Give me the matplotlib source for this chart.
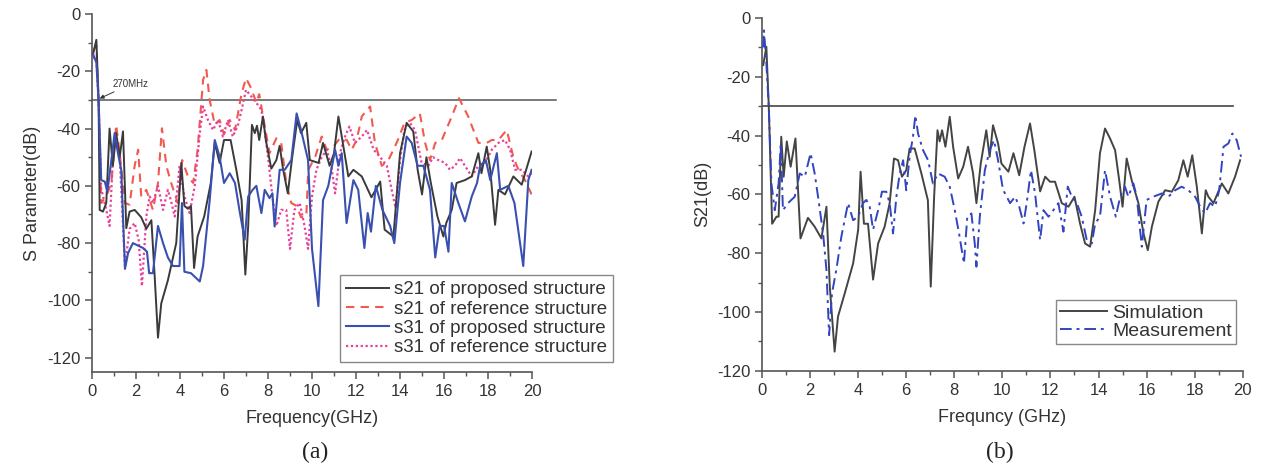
import numpy as np
import matplotlib
matplotlib.use("Agg")
import matplotlib.pyplot as plt
from matplotlib.ticker import MultipleLocator

plt.rcParams['font.family'] = ['Liberation Sans', 'DejaVu Sans']
plt.rcParams['axes.unicode_minus'] = False

# ---- panel (a) data, frequency in GHz, level in dB ----
s21_prop_f = [0.05, 0.2, 0.3, 0.35, 0.5, 0.65, 0.8, 0.95, 1.1, 1.26, 1.41, 1.56, 1.71, 1.94, 2.24, 2.47, 2.7,
              2.85, 3.0, 3.15, 3.45, 3.83, 4.06, 4.2, 4.36, 4.5, 4.64, 4.8, 5.1, 5.4, 5.58, 5.8, 6.0, 6.3,
              6.56, 6.8, 6.97, 7.1, 7.27, 7.4, 7.5, 7.6, 7.77, 7.9, 8.15, 8.38, 8.53, 8.68, 8.9, 9.1, 9.33,
              9.5, 9.74, 9.9, 10.3, 10.5, 10.8, 11.0, 11.2, 11.4, 11.65, 11.88, 12.26, 12.7, 13.1, 13.3,
              13.7, 14.0, 14.3, 14.6, 14.8, 15.0, 15.2, 15.4, 15.7, 15.97, 16.1, 16.35, 16.57, 16.95, 17.26,
              17.56, 17.7, 17.94, 18.1, 18.32, 18.47, 18.77, 19.15, 19.53, 19.98]
s21_prop_db = [-14, -9, -30, -68.4, -69, -66, -40, -53, -41.6, -50, -41, -74.8, -69, -68.4, -71, -75, -72,
               -91.6, -113, -101, -93, -80, -52, -67, -68, -67, -88.7, -77.7, -70.7, -59, -45, -52, -44, -44,
               -54.4, -65, -91, -74, -38.7, -41.6, -39, -44, -35.8, -44, -54, -51, -46, -54, -62.6, -50, -37,
               -41.6, -38, -51, -52, -45, -53, -48.6, -35.8, -45, -56.7, -54.4, -56.7, -64, -58.5, -75.3,
               -77.7, -48.6, -38, -41, -54.4, -63, -50, -59, -70.7, -77.7, -73, -68.4, -59, -58, -56.7,
               -48.6, -55.6, -46.3, -54.4, -73.6, -61.4, -63, -56.7, -59.6, -48]

s21_ref_f = [0.05, 0.2, 0.3, 0.42, 0.65, 0.88, 1.1, 1.26, 1.5, 1.71, 1.94, 2.1, 2.24, 2.47, 2.77, 3.0, 3.18,
             3.38, 3.6, 3.9, 4.1, 4.36, 4.6, 4.8, 5.05, 5.2, 5.35, 5.58, 5.8, 6.0, 6.26, 6.5, 6.8, 7.0, 7.24,
             7.47, 7.6, 7.85, 8.07, 8.38, 8.6, 8.83, 9.06, 9.3, 9.5, 9.74, 9.83, 10.14, 10.44, 10.67, 10.97,
             11.27, 11.58, 11.8, 12.03, 12.26, 12.5, 12.64, 12.86, 13.17, 13.47, 13.7, 13.9, 14.2, 14.53,
             14.9, 15.14, 15.36, 15.6, 15.9, 16.35, 16.68, 17.1, 17.56, 17.94, 18.17, 18.47, 18.85, 19.15,
             19.38, 19.68, 19.98]
s21_ref_db = [-13, -11, -30, -66, -63.7, -59, -38.7, -48.6, -66, -66.6, -53, -47.4, -63.7, -61.4, -68.4,
              -59, -39.9, -53, -59, -66, -51, -56.7, -59, -47.4, -23, -19.5, -30, -38.7, -37, -42, -37, -40.5,
              -27.7, -22.4, -26, -31, -28, -39, -48.6, -43.4, -45, -59, -66, -67, -71, -70.7, -54.4, -50,
              -42.8, -47.4, -46.3, -43.4, -44, -47.4, -44, -35.8, -33.5, -32.3, -45, -53, -51, -47.4, -44,
              -38, -37, -34.7, -45, -51, -45, -44, -35.8, -29.4, -35.8, -45, -45, -44, -44, -40.5, -50,
              -54.4, -58, -63]

s31_prop_f = [0.05, 0.2, 0.3, 0.42, 0.58, 0.7, 0.85, 1.03, 1.18, 1.33, 1.5, 1.64, 1.86, 2.32, 2.5, 2.6, 2.77,
              3.0, 3.23, 3.45, 3.68, 3.98, 4.09, 4.2, 4.5, 4.9, 5.05, 5.35, 5.58, 5.8, 6.0, 6.26, 6.5, 6.7,
              6.94, 7.1, 7.3, 7.47, 7.7, 7.85, 8.07, 8.2, 8.3, 8.53, 8.76, 9.06, 9.3, 9.5, 9.82, 10.0, 10.29,
              10.5, 10.74, 11.05, 11.2, 11.35, 11.57, 11.88, 12.1, 12.38, 12.53, 12.68, 12.9, 13.2, 13.55,
              13.74, 14.0, 14.3, 14.53, 14.8, 15.06, 15.36, 15.6, 15.8, 16.0, 16.2, 16.35, 16.65, 16.95,
              17.26, 17.5, 17.64, 17.9, 18.1, 18.4, 18.55, 18.92, 19.2, 19.6, 19.83, 19.98]
s31_prop_db = [-14, -17, -30, -58, -58.5, -62, -53, -41.6, -48.6, -54.4, -89, -83.5, -80, -81.7, -83, -90.5,
               -90.5, -74, -80, -85, -88, -88, -66, -90, -90.5, -93.4, -88, -65, -44, -49.8, -59, -55.6, -59,
               -68.4, -78.8, -63.7, -61.4, -60, -69.5, -61.4, -64.3, -62.6, -74.2, -54.4, -54.4, -51, -34.7,
               -40.5, -51, -82, -102, -65, -60, -47.4, -53, -48.6, -73, -58, -61.4, -81.7, -69.5, -76, -60,
               -68.4, -74, -80, -59, -42.8, -45, -53, -53, -61.4, -85, -74, -74, -83, -59, -66, -72.4, -63.7,
               -59, -53, -51, -58, -48.6, -61.4, -60, -66, -88, -58, -54.4]

s31_ref_f = [0.05, 0.2, 0.3, 0.42, 0.65, 0.8, 0.95, 1.1, 1.26, 1.5, 1.71, 1.94, 2.12, 2.27, 2.47, 2.62, 2.77,
             3.0, 3.23, 3.45, 3.6, 3.76, 3.98, 4.2, 4.44, 4.67, 4.9, 5.05, 5.27, 5.5, 5.73, 5.95, 6.18, 6.4,
             6.64, 6.8, 7.0, 7.24, 7.47, 7.7, 7.85, 8.0, 8.2, 8.38, 8.6, 8.83, 9.0, 9.2, 9.44, 9.66, 9.82,
             10.0, 10.2, 10.44, 10.67, 10.9, 11.05, 11.27, 11.5, 11.7, 11.95, 12.26, 12.5, 12.8, 13.1, 13.4,
             13.62, 13.8, 14.0, 14.2, 14.45, 14.68, 14.98, 15.29, 15.5, 15.74, 16.05, 16.27, 16.5, 16.73,
             16.95, 17.26, 17.56, 17.86, 18.17, 18.47, 18.77, 19.0, 19.23, 19.53, 19.83, 19.98]
s31_ref_db = [-15, -16, -30, -61, -68.4, -74, -51, -41.6, -50, -88, -75, -73, -78.8, -95, -70.7, -63.7, -66,
              -60, -68.4, -61.4, -65.5, -70.7, -53, -63.7, -69.5, -60, -41.6, -32.3, -37, -40.5, -37, -42.8,
              -37, -42.8, -38.7, -33.5, -26.5, -28.8, -31, -33.5, -40.5, -50, -63.7, -74, -68.4, -68.4, -82,
              -68.4, -66, -74, -82, -63.7, -54.4, -50, -47.4, -54.4, -62.6, -48.6, -42.8, -39.3, -45, -42.8,
              -40.5, -47.4, -50, -53, -61.4, -67.8, -51, -40.5, -38, -40.5, -52, -53, -50, -51, -52, -54.4,
              -53, -50.3, -53, -56.7, -53, -52, -47.4, -45, -44, -47.4, -54.4, -54.4, -56.7, -55.6]

# ---- panel (b) data ----
sim_f = [0.05, 0.18, 0.28, 0.42, 0.6, 0.69, 0.8, 0.9, 1.03, 1.19, 1.39, 1.6, 1.91, 2.19, 2.47, 2.68, 2.82,
         3.02, 3.16, 3.44, 3.79, 4.0, 4.1, 4.24, 4.41, 4.62, 4.83, 5.1, 5.31, 5.49, 5.66, 5.82, 6.0, 6.14,
         6.35, 6.63, 6.9, 7.02, 7.16, 7.3, 7.39, 7.49, 7.63, 7.81, 7.95, 8.16, 8.37, 8.57, 8.78, 8.92, 9.1,
         9.33, 9.47, 9.61, 9.82, 9.96, 10.25, 10.46, 10.7, 10.92, 11.15, 11.33, 11.57, 11.78, 11.98, 12.19,
         12.47, 12.75, 13.0, 13.23, 13.44, 13.65, 13.86, 14.06, 14.27, 14.48, 14.69, 14.86, 15.0, 15.17,
         15.38, 15.66, 15.87, 16.05, 16.22, 16.49, 16.77, 17.05, 17.32, 17.53, 17.71, 17.9, 18.09, 18.3,
         18.46, 18.57, 18.78, 19.13, 19.4, 19.68, 19.89]
sim_db = [-16, -9.8, -30, -70, -67.6, -67.6, -40.4, -54, -42, -50.6, -41, -75, -68, -71, -75, -64.2, -91.4,
          -113.5, -101.6, -93.7, -83.5, -72, -52.3, -70, -70, -89, -76.7, -71, -63, -47.8, -48.4, -54, -51.8,
          -44.4, -44.4, -52.9, -62, -91.4, -60.8, -38.2, -42, -38.2, -43.8, -33.6, -43.8, -54.6, -50.6, -43.8,
          -52.9, -63, -49.5, -38.2, -47.2, -36.5, -42.7, -49.5, -52.3, -46, -53.5, -43.8, -35.9, -45, -59,
          -54, -55.7, -55.7, -63, -64.2, -60.8, -69.9, -76.7, -77.8, -65.4, -46, -37.6, -41, -45, -55.2,
          -64.2, -47.8, -55.2, -63, -73.3, -79, -71, -62.5, -58.6, -59.1, -55.2, -48.4, -54, -46.7, -57.4,
          -73.3, -58.6, -60.8, -63, -56.3, -59.7, -54, -48.4]

meas_f = [0.05, 0.08, 0.18, 0.28, 0.39, 0.53, 0.69, 0.78, 0.87, 1.08, 1.36, 1.57, 1.78, 2.02, 2.19, 2.33,
          2.54, 2.68, 2.79, 2.91, 3.09, 3.3, 3.41, 3.58, 3.79, 4.0, 4.2, 4.34, 4.48, 4.62, 4.83, 4.99, 5.17,
          5.31, 5.45, 5.59, 5.73, 5.87, 6.0, 6.14, 6.28, 6.38, 6.49, 6.7, 6.91, 7.11, 7.32, 7.6, 7.81, 8.02,
          8.22, 8.4, 8.54, 8.71, 8.85, 8.92, 9.06, 9.27, 9.47, 9.65, 9.82, 10.03, 10.11, 10.32, 10.53, 10.7,
          10.88, 11.01, 11.19, 11.36, 11.57, 11.71, 11.92, 12.12, 12.33, 12.54, 12.72, 12.89, 13.1, 13.3,
          13.51, 13.72, 13.86, 14.06, 14.27, 14.48, 14.72, 14.9, 15.1, 15.24, 15.45, 15.59, 15.8, 16.0,
          16.28, 16.63, 16.91, 17.19, 17.46, 17.74, 18.02, 18.23, 18.43, 18.64, 18.85, 19.02, 19.2, 19.4,
          19.57, 19.75, 19.93]
meas_db = [-10, -4.2, -15.5, -30, -56.3, -65.4, -56.3, -42.7, -65.4, -63, -60.8, -52.9, -54, -46, -52.9,
           -60.8, -73.3, -85.7, -107.9, -93.7, -85.7, -74.4, -69.9, -63, -68.8, -67.6, -63, -61.9, -64.2, -72,
           -65.4, -59.1, -59.1, -63, -73.3, -60.8, -52.9, -48.4, -58.6, -47.2, -40.4, -33.1, -39.3, -45,
           -48.4, -56.3, -52.9, -54, -57.4, -65.4, -74.4, -83.5, -67.6, -66.5, -76.7, -84.6, -67.6, -51.8,
           -45, -41.6, -48.4, -58.6, -59.7, -63, -60.8, -64.2, -69.9, -63, -51.8, -59.7, -75.5, -65.4, -67.6,
           -65.4, -63, -72.7, -57.4, -60.8, -63, -67.6, -75.5, -76.7, -69.9, -67.6, -51.8, -60.8, -67.6,
           -60.8, -57.4, -60.8, -56.3, -60.8, -77.8, -61.9, -60.8, -59.7, -60.8, -58.6, -57.4, -58.6, -60.8,
           -64.2, -66.5, -63, -64.2, -58.6, -43.8, -42.7, -39.3, -41.6, -47.2]

legend_a = ["s21 of proposed structure", "s21 of reference structure",
            "s31 of proposed structure", "s31 of reference structure"]
legend_b = ["Simulation", "Measurement"]

txt = "#333333"
fig = plt.figure(figsize=(12.65, 4.72), dpi=100)
ax1 = fig.add_axes([0.0727, 0.2119, 0.3479, 0.7584])
ax2 = fig.add_axes([0.6024, 0.2146, 0.3800, 0.7473])


def style(ax, ybot):
    ax.set_xlim(0, 20)
    ax.set_ylim(ybot, 0)
    for s in ["top", "right"]:
        ax.spines[s].set_visible(False)
    for s in ["left", "bottom"]:
        ax.spines[s].set_color("#555555")
        ax.spines[s].set_linewidth(1.2)
    ax.xaxis.set_major_locator(MultipleLocator(2))
    ax.xaxis.set_minor_locator(MultipleLocator(1))
    ax.yaxis.set_major_locator(MultipleLocator(20))
    ax.yaxis.set_minor_locator(MultipleLocator(10))
    ax.tick_params(which="major", direction="out", length=5, width=1.1, colors="#555555",
                   labelcolor=txt, labelsize=12)
    ax.tick_params(which="minor", direction="out", length=3, width=1.0, colors="#555555")


# (a)
style(ax1, -125)
ax1.set_yticks(np.arange(-120, 1, 20))
ax1.plot([0, 21.1], [-30, -30], color="#555555", lw=1.1, clip_on=False)
ax1.plot(s21_ref_f, s21_ref_db, color="#f05a50", lw=1.5, ls=(0, (4, 3)), label=legend_a[1], zorder=3)
ax1.plot(s31_ref_f, s31_ref_db, color="#e8409a", lw=1.6, ls=(0, (1, 1.2)), label=legend_a[3], zorder=3)
ax1.plot(s21_prop_f, s21_prop_db, color="#3a3a3a", lw=1.4, label=legend_a[0], zorder=4)
ax1.plot(s31_prop_f, s31_prop_db, color="#3a50b0", lw=1.5, label=legend_a[2], zorder=4)
ax1.annotate("270MHz", xy=(0.35, -29.5), xytext=(0.95, -25.5), fontsize=7, color=txt,
             arrowprops=dict(arrowstyle="-|>", color="#333333", lw=0.7, mutation_scale=6,
                             shrinkA=0, shrinkB=0))
ax1.set_xlabel("Frequency(GHz)", fontsize=13, color=txt, labelpad=8)
ax1.set_ylabel("S Parameter(dB)", fontsize=13, color=txt, labelpad=4)
h, l = ax1.get_legend_handles_labels()
order = [2, 0, 3, 1]
leg = ax1.legend([h[i] for i in order], [l[i] for i in order], loc="lower left",
                 bbox_to_anchor=(0.5636, 0.028), borderaxespad=0, fontsize=13.5, fancybox=False,
                 framealpha=1, edgecolor="#888888", handlelength=2.3, handletextpad=0.3,
                 labelspacing=0.12, borderpad=0.3)
for t in leg.get_texts():
    t.set_color(txt)

# (b)
style(ax2, -120)
ax2.plot([0, 19.6], [-30, -30], color="#444444", lw=1.2)
ax2.plot(sim_f, sim_db, color="#444444", lw=1.4, label=legend_b[0], zorder=3)
ax2.plot(meas_f, meas_db, color="#3344c0", lw=1.4, ls=(0, (6, 2.5, 1.5, 2.5)), label=legend_b[1], zorder=4)
ax2.set_xlabel("Frequncy (GHz)", fontsize=13, color=txt, labelpad=8)
ax2.set_ylabel("S21(dB)", fontsize=13, color=txt, labelpad=4)
leg2 = ax2.legend(loc="lower left", bbox_to_anchor=(0.6116, 0.0756), borderaxespad=0, fontsize=14,
                  fancybox=False, framealpha=1, edgecolor="#888888", handlelength=2.4,
                  handletextpad=0.3, labelspacing=0.05, borderpad=0.2)
for t in leg2.get_texts():
    t.set_color(txt)

fig.text(315 / 1265, 1 - 452 / 472, "(a)", fontsize=17, family="Liberation Serif",
         ha="center", va="center", color="#222222")
fig.text(1000 / 1265, 1 - 452 / 472, "(b)", fontsize=17, family="Liberation Serif",
         ha="center", va="center", color="#222222")

fig.savefig("out.png", dpi=100)
